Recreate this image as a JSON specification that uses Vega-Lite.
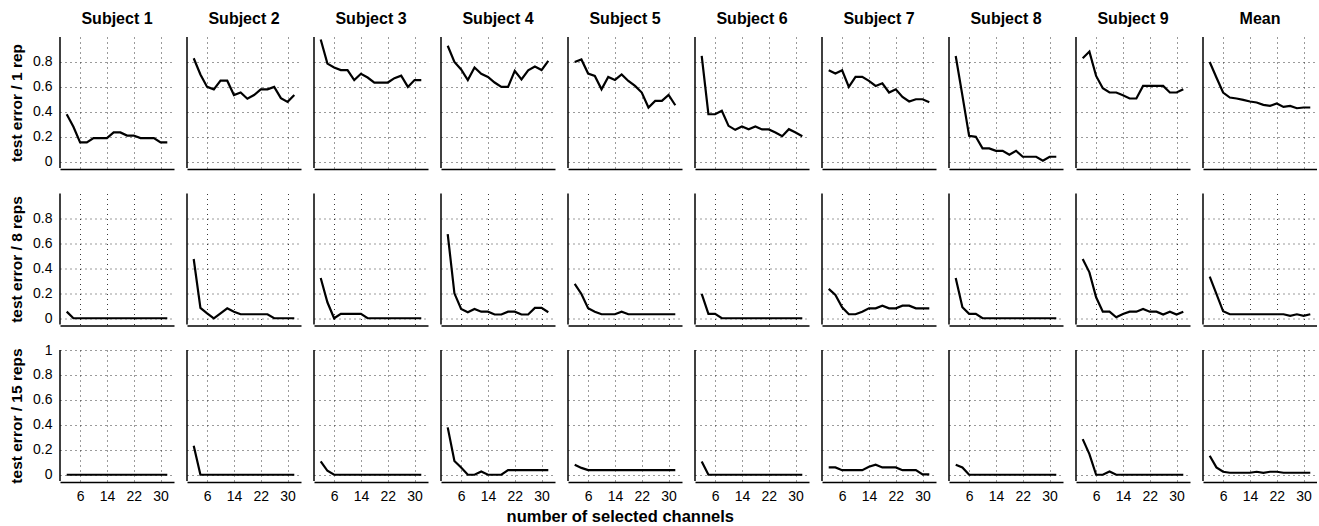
{
"$schema": "https://vega.github.io/schema/vega-lite/v6.json",
"background": "white",
"padding": {"left": 9, "top": 11, "right": 0, "bottom": 0},
"config": {
  "view": {"stroke": null},
  "font": "Liberation Sans",
  "axis": {"domainColor": "black", "domainWidth": 1.5, "ticks": false, "gridColor": "#222", "gridDash": [1, 4], "gridOpacity": 0.9, "gridWidth": 1, "labelColor": "black", "labelFontSize": 14, "labelFont": "Liberation Sans", "titleColor": "black", "titleFontSize": 15.5, "titleFontWeight": "bold", "titleFont": "Liberation Sans", "labelPadding": 7},
  "axisY": {"titlePadding": 8, "domain": false},
  "header": {"labelFont": "Liberation Sans", "labelFontSize": 16, "labelFontWeight": "bold", "labelColor": "black"}
},
"title": {"text": "number of selected channels", "orient": "bottom", "anchor": "middle", "dx": -43, "offset": 6, "fontSize": 16.5, "fontWeight": "bold", "font": "Liberation Sans", "color": "black"},
"data": {"values": [
{"s":"Subject 1","r":1,"x":2,"y":0.38},{"s":"Subject 1","r":1,"x":4,"y":0.28},{"s":"Subject 1","r":1,"x":6,"y":0.155},{"s":"Subject 1","r":1,"x":8,"y":0.155},{"s":"Subject 1","r":1,"x":10,"y":0.19},{"s":"Subject 1","r":1,"x":12,"y":0.19},{"s":"Subject 1","r":1,"x":14,"y":0.19},{"s":"Subject 1","r":1,"x":16,"y":0.235},{"s":"Subject 1","r":1,"x":18,"y":0.235},{"s":"Subject 1","r":1,"x":20,"y":0.21},{"s":"Subject 1","r":1,"x":22,"y":0.21},{"s":"Subject 1","r":1,"x":24,"y":0.19},{"s":"Subject 1","r":1,"x":26,"y":0.19},{"s":"Subject 1","r":1,"x":28,"y":0.19},{"s":"Subject 1","r":1,"x":30,"y":0.155},{"s":"Subject 1","r":1,"x":32,"y":0.155},
{"s":"Subject 2","r":1,"x":2,"y":0.83},{"s":"Subject 2","r":1,"x":4,"y":0.70},{"s":"Subject 2","r":1,"x":6,"y":0.60},{"s":"Subject 2","r":1,"x":8,"y":0.58},{"s":"Subject 2","r":1,"x":10,"y":0.65},{"s":"Subject 2","r":1,"x":12,"y":0.65},{"s":"Subject 2","r":1,"x":14,"y":0.535},{"s":"Subject 2","r":1,"x":16,"y":0.555},{"s":"Subject 2","r":1,"x":18,"y":0.505},{"s":"Subject 2","r":1,"x":20,"y":0.535},{"s":"Subject 2","r":1,"x":22,"y":0.58},{"s":"Subject 2","r":1,"x":24,"y":0.58},{"s":"Subject 2","r":1,"x":26,"y":0.60},{"s":"Subject 2","r":1,"x":28,"y":0.51},{"s":"Subject 2","r":1,"x":30,"y":0.48},{"s":"Subject 2","r":1,"x":32,"y":0.535},
{"s":"Subject 3","r":1,"x":2,"y":0.98},{"s":"Subject 3","r":1,"x":4,"y":0.787},{"s":"Subject 3","r":1,"x":6,"y":0.755},{"s":"Subject 3","r":1,"x":8,"y":0.735},{"s":"Subject 3","r":1,"x":10,"y":0.735},{"s":"Subject 3","r":1,"x":12,"y":0.655},{"s":"Subject 3","r":1,"x":14,"y":0.705},{"s":"Subject 3","r":1,"x":16,"y":0.675},{"s":"Subject 3","r":1,"x":18,"y":0.635},{"s":"Subject 3","r":1,"x":20,"y":0.635},{"s":"Subject 3","r":1,"x":22,"y":0.635},{"s":"Subject 3","r":1,"x":24,"y":0.67},{"s":"Subject 3","r":1,"x":26,"y":0.69},{"s":"Subject 3","r":1,"x":28,"y":0.60},{"s":"Subject 3","r":1,"x":30,"y":0.655},{"s":"Subject 3","r":1,"x":32,"y":0.655},
{"s":"Subject 4","r":1,"x":2,"y":0.93},{"s":"Subject 4","r":1,"x":4,"y":0.80},{"s":"Subject 4","r":1,"x":6,"y":0.74},{"s":"Subject 4","r":1,"x":8,"y":0.655},{"s":"Subject 4","r":1,"x":10,"y":0.755},{"s":"Subject 4","r":1,"x":12,"y":0.705},{"s":"Subject 4","r":1,"x":14,"y":0.68},{"s":"Subject 4","r":1,"x":16,"y":0.635},{"s":"Subject 4","r":1,"x":18,"y":0.60},{"s":"Subject 4","r":1,"x":20,"y":0.60},{"s":"Subject 4","r":1,"x":22,"y":0.728},{"s":"Subject 4","r":1,"x":24,"y":0.66},{"s":"Subject 4","r":1,"x":26,"y":0.733},{"s":"Subject 4","r":1,"x":28,"y":0.763},{"s":"Subject 4","r":1,"x":30,"y":0.735},{"s":"Subject 4","r":1,"x":32,"y":0.808},
{"s":"Subject 5","r":1,"x":2,"y":0.80},{"s":"Subject 5","r":1,"x":4,"y":0.82},{"s":"Subject 5","r":1,"x":6,"y":0.707},{"s":"Subject 5","r":1,"x":8,"y":0.688},{"s":"Subject 5","r":1,"x":10,"y":0.581},{"s":"Subject 5","r":1,"x":12,"y":0.68},{"s":"Subject 5","r":1,"x":14,"y":0.656},{"s":"Subject 5","r":1,"x":16,"y":0.70},{"s":"Subject 5","r":1,"x":18,"y":0.648},{"s":"Subject 5","r":1,"x":20,"y":0.608},{"s":"Subject 5","r":1,"x":22,"y":0.555},{"s":"Subject 5","r":1,"x":24,"y":0.435},{"s":"Subject 5","r":1,"x":26,"y":0.488},{"s":"Subject 5","r":1,"x":28,"y":0.488},{"s":"Subject 5","r":1,"x":30,"y":0.536},{"s":"Subject 5","r":1,"x":32,"y":0.453},
{"s":"Subject 6","r":1,"x":2,"y":0.848},{"s":"Subject 6","r":1,"x":4,"y":0.381},{"s":"Subject 6","r":1,"x":6,"y":0.381},{"s":"Subject 6","r":1,"x":8,"y":0.408},{"s":"Subject 6","r":1,"x":10,"y":0.288},{"s":"Subject 6","r":1,"x":12,"y":0.256},{"s":"Subject 6","r":1,"x":14,"y":0.283},{"s":"Subject 6","r":1,"x":16,"y":0.261},{"s":"Subject 6","r":1,"x":18,"y":0.283},{"s":"Subject 6","r":1,"x":20,"y":0.259},{"s":"Subject 6","r":1,"x":22,"y":0.259},{"s":"Subject 6","r":1,"x":24,"y":0.235},{"s":"Subject 6","r":1,"x":26,"y":0.205},{"s":"Subject 6","r":1,"x":28,"y":0.261},{"s":"Subject 6","r":1,"x":30,"y":0.235},{"s":"Subject 6","r":1,"x":32,"y":0.205},
{"s":"Subject 7","r":1,"x":2,"y":0.733},{"s":"Subject 7","r":1,"x":4,"y":0.707},{"s":"Subject 7","r":1,"x":6,"y":0.733},{"s":"Subject 7","r":1,"x":8,"y":0.60},{"s":"Subject 7","r":1,"x":10,"y":0.68},{"s":"Subject 7","r":1,"x":12,"y":0.68},{"s":"Subject 7","r":1,"x":14,"y":0.648},{"s":"Subject 7","r":1,"x":16,"y":0.608},{"s":"Subject 7","r":1,"x":18,"y":0.629},{"s":"Subject 7","r":1,"x":20,"y":0.555},{"s":"Subject 7","r":1,"x":22,"y":0.581},{"s":"Subject 7","r":1,"x":24,"y":0.52},{"s":"Subject 7","r":1,"x":26,"y":0.483},{"s":"Subject 7","r":1,"x":28,"y":0.501},{"s":"Subject 7","r":1,"x":30,"y":0.501},{"s":"Subject 7","r":1,"x":32,"y":0.477},
{"s":"Subject 8","r":1,"x":2,"y":0.848},{"s":"Subject 8","r":1,"x":4,"y":0.53},{"s":"Subject 8","r":1,"x":6,"y":0.208},{"s":"Subject 8","r":1,"x":8,"y":0.20},{"s":"Subject 8","r":1,"x":10,"y":0.107},{"s":"Subject 8","r":1,"x":12,"y":0.107},{"s":"Subject 8","r":1,"x":14,"y":0.088},{"s":"Subject 8","r":1,"x":16,"y":0.088},{"s":"Subject 8","r":1,"x":18,"y":0.056},{"s":"Subject 8","r":1,"x":20,"y":0.088},{"s":"Subject 8","r":1,"x":22,"y":0.04},{"s":"Subject 8","r":1,"x":24,"y":0.04},{"s":"Subject 8","r":1,"x":26,"y":0.04},{"s":"Subject 8","r":1,"x":28,"y":0.008},{"s":"Subject 8","r":1,"x":30,"y":0.04},{"s":"Subject 8","r":1,"x":32,"y":0.04},
{"s":"Subject 9","r":1,"x":2,"y":0.829},{"s":"Subject 9","r":1,"x":4,"y":0.883},{"s":"Subject 9","r":1,"x":6,"y":0.688},{"s":"Subject 9","r":1,"x":8,"y":0.589},{"s":"Subject 9","r":1,"x":10,"y":0.555},{"s":"Subject 9","r":1,"x":12,"y":0.555},{"s":"Subject 9","r":1,"x":14,"y":0.533},{"s":"Subject 9","r":1,"x":16,"y":0.507},{"s":"Subject 9","r":1,"x":18,"y":0.507},{"s":"Subject 9","r":1,"x":20,"y":0.608},{"s":"Subject 9","r":1,"x":22,"y":0.608},{"s":"Subject 9","r":1,"x":24,"y":0.608},{"s":"Subject 9","r":1,"x":26,"y":0.608},{"s":"Subject 9","r":1,"x":28,"y":0.555},{"s":"Subject 9","r":1,"x":30,"y":0.555},{"s":"Subject 9","r":1,"x":32,"y":0.581},
{"s":"Mean","r":1,"x":2,"y":0.80},{"s":"Mean","r":1,"x":4,"y":0.675},{"s":"Mean","r":1,"x":6,"y":0.555},{"s":"Mean","r":1,"x":8,"y":0.515},{"s":"Mean","r":1,"x":10,"y":0.507},{"s":"Mean","r":1,"x":12,"y":0.496},{"s":"Mean","r":1,"x":14,"y":0.483},{"s":"Mean","r":1,"x":16,"y":0.475},{"s":"Mean","r":1,"x":18,"y":0.456},{"s":"Mean","r":1,"x":20,"y":0.448},{"s":"Mean","r":1,"x":22,"y":0.467},{"s":"Mean","r":1,"x":24,"y":0.44},{"s":"Mean","r":1,"x":26,"y":0.448},{"s":"Mean","r":1,"x":28,"y":0.429},{"s":"Mean","r":1,"x":30,"y":0.435},{"s":"Mean","r":1,"x":32,"y":0.435},
{"s":"Subject 1","r":2,"x":2,"y":0.053},{"s":"Subject 1","r":2,"x":4,"y":0},{"s":"Subject 1","r":2,"x":6,"y":0},{"s":"Subject 1","r":2,"x":8,"y":0},{"s":"Subject 1","r":2,"x":10,"y":0},{"s":"Subject 1","r":2,"x":12,"y":0},{"s":"Subject 1","r":2,"x":14,"y":0},{"s":"Subject 1","r":2,"x":16,"y":0},{"s":"Subject 1","r":2,"x":18,"y":0},{"s":"Subject 1","r":2,"x":20,"y":0},{"s":"Subject 1","r":2,"x":22,"y":0},{"s":"Subject 1","r":2,"x":24,"y":0},{"s":"Subject 1","r":2,"x":26,"y":0},{"s":"Subject 1","r":2,"x":28,"y":0},{"s":"Subject 1","r":2,"x":30,"y":0},{"s":"Subject 1","r":2,"x":32,"y":0},
{"s":"Subject 2","r":2,"x":2,"y":0.475},{"s":"Subject 2","r":2,"x":4,"y":0.083},{"s":"Subject 2","r":2,"x":6,"y":0.04},{"s":"Subject 2","r":2,"x":8,"y":0},{"s":"Subject 2","r":2,"x":10,"y":0.04},{"s":"Subject 2","r":2,"x":12,"y":0.08},{"s":"Subject 2","r":2,"x":14,"y":0.053},{"s":"Subject 2","r":2,"x":16,"y":0.032},{"s":"Subject 2","r":2,"x":18,"y":0.032},{"s":"Subject 2","r":2,"x":20,"y":0.032},{"s":"Subject 2","r":2,"x":22,"y":0.032},{"s":"Subject 2","r":2,"x":24,"y":0.032},{"s":"Subject 2","r":2,"x":26,"y":0},{"s":"Subject 2","r":2,"x":28,"y":0},{"s":"Subject 2","r":2,"x":30,"y":0},{"s":"Subject 2","r":2,"x":32,"y":0},
{"s":"Subject 3","r":2,"x":2,"y":0.323},{"s":"Subject 3","r":2,"x":4,"y":0.128},{"s":"Subject 3","r":2,"x":6,"y":0},{"s":"Subject 3","r":2,"x":8,"y":0.035},{"s":"Subject 3","r":2,"x":10,"y":0.035},{"s":"Subject 3","r":2,"x":12,"y":0.035},{"s":"Subject 3","r":2,"x":14,"y":0.035},{"s":"Subject 3","r":2,"x":16,"y":0},{"s":"Subject 3","r":2,"x":18,"y":0},{"s":"Subject 3","r":2,"x":20,"y":0},{"s":"Subject 3","r":2,"x":22,"y":0},{"s":"Subject 3","r":2,"x":24,"y":0},{"s":"Subject 3","r":2,"x":26,"y":0},{"s":"Subject 3","r":2,"x":28,"y":0},{"s":"Subject 3","r":2,"x":30,"y":0},{"s":"Subject 3","r":2,"x":32,"y":0},
{"s":"Subject 4","r":2,"x":2,"y":0.675},{"s":"Subject 4","r":2,"x":4,"y":0.2},{"s":"Subject 4","r":2,"x":6,"y":0.075},{"s":"Subject 4","r":2,"x":8,"y":0.048},{"s":"Subject 4","r":2,"x":10,"y":0.075},{"s":"Subject 4","r":2,"x":12,"y":0.053},{"s":"Subject 4","r":2,"x":14,"y":0.053},{"s":"Subject 4","r":2,"x":16,"y":0.03},{"s":"Subject 4","r":2,"x":18,"y":0.03},{"s":"Subject 4","r":2,"x":20,"y":0.053},{"s":"Subject 4","r":2,"x":22,"y":0.053},{"s":"Subject 4","r":2,"x":24,"y":0.03},{"s":"Subject 4","r":2,"x":26,"y":0.03},{"s":"Subject 4","r":2,"x":28,"y":0.083},{"s":"Subject 4","r":2,"x":30,"y":0.083},{"s":"Subject 4","r":2,"x":32,"y":0.048},
{"s":"Subject 5","r":2,"x":2,"y":0.275},{"s":"Subject 5","r":2,"x":4,"y":0.195},{"s":"Subject 5","r":2,"x":6,"y":0.08},{"s":"Subject 5","r":2,"x":8,"y":0.053},{"s":"Subject 5","r":2,"x":10,"y":0.032},{"s":"Subject 5","r":2,"x":12,"y":0.032},{"s":"Subject 5","r":2,"x":14,"y":0.032},{"s":"Subject 5","r":2,"x":16,"y":0.053},{"s":"Subject 5","r":2,"x":18,"y":0.032},{"s":"Subject 5","r":2,"x":20,"y":0.032},{"s":"Subject 5","r":2,"x":22,"y":0.032},{"s":"Subject 5","r":2,"x":24,"y":0.032},{"s":"Subject 5","r":2,"x":26,"y":0.032},{"s":"Subject 5","r":2,"x":28,"y":0.032},{"s":"Subject 5","r":2,"x":30,"y":0.032},{"s":"Subject 5","r":2,"x":32,"y":0.032},
{"s":"Subject 6","r":2,"x":2,"y":0.195},{"s":"Subject 6","r":2,"x":4,"y":0.035},{"s":"Subject 6","r":2,"x":6,"y":0.035},{"s":"Subject 6","r":2,"x":8,"y":0},{"s":"Subject 6","r":2,"x":10,"y":0},{"s":"Subject 6","r":2,"x":12,"y":0},{"s":"Subject 6","r":2,"x":14,"y":0},{"s":"Subject 6","r":2,"x":16,"y":0},{"s":"Subject 6","r":2,"x":18,"y":0},{"s":"Subject 6","r":2,"x":20,"y":0},{"s":"Subject 6","r":2,"x":22,"y":0},{"s":"Subject 6","r":2,"x":24,"y":0},{"s":"Subject 6","r":2,"x":26,"y":0},{"s":"Subject 6","r":2,"x":28,"y":0},{"s":"Subject 6","r":2,"x":30,"y":0},{"s":"Subject 6","r":2,"x":32,"y":0},
{"s":"Subject 7","r":2,"x":2,"y":0.235},{"s":"Subject 7","r":2,"x":4,"y":0.187},{"s":"Subject 7","r":2,"x":6,"y":0.088},{"s":"Subject 7","r":2,"x":8,"y":0.032},{"s":"Subject 7","r":2,"x":10,"y":0.032},{"s":"Subject 7","r":2,"x":12,"y":0.053},{"s":"Subject 7","r":2,"x":14,"y":0.08},{"s":"Subject 7","r":2,"x":16,"y":0.08},{"s":"Subject 7","r":2,"x":18,"y":0.101},{"s":"Subject 7","r":2,"x":20,"y":0.08},{"s":"Subject 7","r":2,"x":22,"y":0.08},{"s":"Subject 7","r":2,"x":24,"y":0.101},{"s":"Subject 7","r":2,"x":26,"y":0.101},{"s":"Subject 7","r":2,"x":28,"y":0.08},{"s":"Subject 7","r":2,"x":30,"y":0.08},{"s":"Subject 7","r":2,"x":32,"y":0.08},
{"s":"Subject 8","r":2,"x":2,"y":0.323},{"s":"Subject 8","r":2,"x":4,"y":0.088},{"s":"Subject 8","r":2,"x":6,"y":0.035},{"s":"Subject 8","r":2,"x":8,"y":0.035},{"s":"Subject 8","r":2,"x":10,"y":0},{"s":"Subject 8","r":2,"x":12,"y":0},{"s":"Subject 8","r":2,"x":14,"y":0},{"s":"Subject 8","r":2,"x":16,"y":0},{"s":"Subject 8","r":2,"x":18,"y":0},{"s":"Subject 8","r":2,"x":20,"y":0},{"s":"Subject 8","r":2,"x":22,"y":0},{"s":"Subject 8","r":2,"x":24,"y":0},{"s":"Subject 8","r":2,"x":26,"y":0},{"s":"Subject 8","r":2,"x":28,"y":0},{"s":"Subject 8","r":2,"x":30,"y":0},{"s":"Subject 8","r":2,"x":32,"y":0},
{"s":"Subject 9","r":2,"x":2,"y":0.475},{"s":"Subject 9","r":2,"x":4,"y":0.368},{"s":"Subject 9","r":2,"x":6,"y":0.168},{"s":"Subject 9","r":2,"x":8,"y":0.053},{"s":"Subject 9","r":2,"x":10,"y":0.053},{"s":"Subject 9","r":2,"x":12,"y":0.008},{"s":"Subject 9","r":2,"x":14,"y":0.035},{"s":"Subject 9","r":2,"x":16,"y":0.053},{"s":"Subject 9","r":2,"x":18,"y":0.053},{"s":"Subject 9","r":2,"x":20,"y":0.075},{"s":"Subject 9","r":2,"x":22,"y":0.053},{"s":"Subject 9","r":2,"x":24,"y":0.053},{"s":"Subject 9","r":2,"x":26,"y":0.03},{"s":"Subject 9","r":2,"x":28,"y":0.053},{"s":"Subject 9","r":2,"x":30,"y":0.03},{"s":"Subject 9","r":2,"x":32,"y":0.053},
{"s":"Mean","r":2,"x":2,"y":0.333},{"s":"Mean","r":2,"x":4,"y":0.195},{"s":"Mean","r":2,"x":6,"y":0.056},{"s":"Mean","r":2,"x":8,"y":0.032},{"s":"Mean","r":2,"x":10,"y":0.032},{"s":"Mean","r":2,"x":12,"y":0.032},{"s":"Mean","r":2,"x":14,"y":0.032},{"s":"Mean","r":2,"x":16,"y":0.032},{"s":"Mean","r":2,"x":18,"y":0.032},{"s":"Mean","r":2,"x":20,"y":0.032},{"s":"Mean","r":2,"x":22,"y":0.032},{"s":"Mean","r":2,"x":24,"y":0.032},{"s":"Mean","r":2,"x":26,"y":0.019},{"s":"Mean","r":2,"x":28,"y":0.032},{"s":"Mean","r":2,"x":30,"y":0.019},{"s":"Mean","r":2,"x":32,"y":0.032},
{"s":"Subject 1","r":3,"x":2,"y":0},{"s":"Subject 1","r":3,"x":4,"y":0},{"s":"Subject 1","r":3,"x":6,"y":0},{"s":"Subject 1","r":3,"x":8,"y":0},{"s":"Subject 1","r":3,"x":10,"y":0},{"s":"Subject 1","r":3,"x":12,"y":0},{"s":"Subject 1","r":3,"x":14,"y":0},{"s":"Subject 1","r":3,"x":16,"y":0},{"s":"Subject 1","r":3,"x":18,"y":0},{"s":"Subject 1","r":3,"x":20,"y":0},{"s":"Subject 1","r":3,"x":22,"y":0},{"s":"Subject 1","r":3,"x":24,"y":0},{"s":"Subject 1","r":3,"x":26,"y":0},{"s":"Subject 1","r":3,"x":28,"y":0},{"s":"Subject 1","r":3,"x":30,"y":0},{"s":"Subject 1","r":3,"x":32,"y":0},
{"s":"Subject 2","r":3,"x":2,"y":0.233},{"s":"Subject 2","r":3,"x":4,"y":0},{"s":"Subject 2","r":3,"x":6,"y":0},{"s":"Subject 2","r":3,"x":8,"y":0},{"s":"Subject 2","r":3,"x":10,"y":0},{"s":"Subject 2","r":3,"x":12,"y":0},{"s":"Subject 2","r":3,"x":14,"y":0},{"s":"Subject 2","r":3,"x":16,"y":0},{"s":"Subject 2","r":3,"x":18,"y":0},{"s":"Subject 2","r":3,"x":20,"y":0},{"s":"Subject 2","r":3,"x":22,"y":0},{"s":"Subject 2","r":3,"x":24,"y":0},{"s":"Subject 2","r":3,"x":26,"y":0},{"s":"Subject 2","r":3,"x":28,"y":0},{"s":"Subject 2","r":3,"x":30,"y":0},{"s":"Subject 2","r":3,"x":32,"y":0},
{"s":"Subject 3","r":3,"x":2,"y":0.107},{"s":"Subject 3","r":3,"x":4,"y":0.032},{"s":"Subject 3","r":3,"x":6,"y":0},{"s":"Subject 3","r":3,"x":8,"y":0},{"s":"Subject 3","r":3,"x":10,"y":0},{"s":"Subject 3","r":3,"x":12,"y":0},{"s":"Subject 3","r":3,"x":14,"y":0},{"s":"Subject 3","r":3,"x":16,"y":0},{"s":"Subject 3","r":3,"x":18,"y":0},{"s":"Subject 3","r":3,"x":20,"y":0},{"s":"Subject 3","r":3,"x":22,"y":0},{"s":"Subject 3","r":3,"x":24,"y":0},{"s":"Subject 3","r":3,"x":26,"y":0},{"s":"Subject 3","r":3,"x":28,"y":0},{"s":"Subject 3","r":3,"x":30,"y":0},{"s":"Subject 3","r":3,"x":32,"y":0},
{"s":"Subject 4","r":3,"x":2,"y":0.38},{"s":"Subject 4","r":3,"x":4,"y":0.11},{"s":"Subject 4","r":3,"x":6,"y":0.059},{"s":"Subject 4","r":3,"x":8,"y":0},{"s":"Subject 4","r":3,"x":10,"y":0},{"s":"Subject 4","r":3,"x":12,"y":0.027},{"s":"Subject 4","r":3,"x":14,"y":0},{"s":"Subject 4","r":3,"x":16,"y":0},{"s":"Subject 4","r":3,"x":18,"y":0},{"s":"Subject 4","r":3,"x":20,"y":0.037},{"s":"Subject 4","r":3,"x":22,"y":0.037},{"s":"Subject 4","r":3,"x":24,"y":0.037},{"s":"Subject 4","r":3,"x":26,"y":0.037},{"s":"Subject 4","r":3,"x":28,"y":0.037},{"s":"Subject 4","r":3,"x":30,"y":0.037},{"s":"Subject 4","r":3,"x":32,"y":0.037},
{"s":"Subject 5","r":3,"x":2,"y":0.08},{"s":"Subject 5","r":3,"x":4,"y":0.055},{"s":"Subject 5","r":3,"x":6,"y":0.037},{"s":"Subject 5","r":3,"x":8,"y":0.037},{"s":"Subject 5","r":3,"x":10,"y":0.037},{"s":"Subject 5","r":3,"x":12,"y":0.037},{"s":"Subject 5","r":3,"x":14,"y":0.037},{"s":"Subject 5","r":3,"x":16,"y":0.037},{"s":"Subject 5","r":3,"x":18,"y":0.037},{"s":"Subject 5","r":3,"x":20,"y":0.037},{"s":"Subject 5","r":3,"x":22,"y":0.037},{"s":"Subject 5","r":3,"x":24,"y":0.037},{"s":"Subject 5","r":3,"x":26,"y":0.037},{"s":"Subject 5","r":3,"x":28,"y":0.037},{"s":"Subject 5","r":3,"x":30,"y":0.037},{"s":"Subject 5","r":3,"x":32,"y":0.037},
{"s":"Subject 6","r":3,"x":2,"y":0.107},{"s":"Subject 6","r":3,"x":4,"y":0},{"s":"Subject 6","r":3,"x":6,"y":0},{"s":"Subject 6","r":3,"x":8,"y":0},{"s":"Subject 6","r":3,"x":10,"y":0},{"s":"Subject 6","r":3,"x":12,"y":0},{"s":"Subject 6","r":3,"x":14,"y":0},{"s":"Subject 6","r":3,"x":16,"y":0},{"s":"Subject 6","r":3,"x":18,"y":0},{"s":"Subject 6","r":3,"x":20,"y":0},{"s":"Subject 6","r":3,"x":22,"y":0},{"s":"Subject 6","r":3,"x":24,"y":0},{"s":"Subject 6","r":3,"x":26,"y":0},{"s":"Subject 6","r":3,"x":28,"y":0},{"s":"Subject 6","r":3,"x":30,"y":0},{"s":"Subject 6","r":3,"x":32,"y":0},
{"s":"Subject 7","r":3,"x":2,"y":0.059},{"s":"Subject 7","r":3,"x":4,"y":0.059},{"s":"Subject 7","r":3,"x":6,"y":0.037},{"s":"Subject 7","r":3,"x":8,"y":0.037},{"s":"Subject 7","r":3,"x":10,"y":0.037},{"s":"Subject 7","r":3,"x":12,"y":0.037},{"s":"Subject 7","r":3,"x":14,"y":0.064},{"s":"Subject 7","r":3,"x":16,"y":0.08},{"s":"Subject 7","r":3,"x":18,"y":0.059},{"s":"Subject 7","r":3,"x":20,"y":0.059},{"s":"Subject 7","r":3,"x":22,"y":0.059},{"s":"Subject 7","r":3,"x":24,"y":0.037},{"s":"Subject 7","r":3,"x":26,"y":0.037},{"s":"Subject 7","r":3,"x":28,"y":0.037},{"s":"Subject 7","r":3,"x":30,"y":0.003},{"s":"Subject 7","r":3,"x":32,"y":0.003},
{"s":"Subject 8","r":3,"x":2,"y":0.08},{"s":"Subject 8","r":3,"x":4,"y":0.059},{"s":"Subject 8","r":3,"x":6,"y":0},{"s":"Subject 8","r":3,"x":8,"y":0},{"s":"Subject 8","r":3,"x":10,"y":0},{"s":"Subject 8","r":3,"x":12,"y":0},{"s":"Subject 8","r":3,"x":14,"y":0},{"s":"Subject 8","r":3,"x":16,"y":0},{"s":"Subject 8","r":3,"x":18,"y":0},{"s":"Subject 8","r":3,"x":20,"y":0},{"s":"Subject 8","r":3,"x":22,"y":0},{"s":"Subject 8","r":3,"x":24,"y":0},{"s":"Subject 8","r":3,"x":26,"y":0},{"s":"Subject 8","r":3,"x":28,"y":0},{"s":"Subject 8","r":3,"x":30,"y":0},{"s":"Subject 8","r":3,"x":32,"y":0},
{"s":"Subject 9","r":3,"x":2,"y":0.286},{"s":"Subject 9","r":3,"x":4,"y":0.166},{"s":"Subject 9","r":3,"x":6,"y":0},{"s":"Subject 9","r":3,"x":8,"y":0},{"s":"Subject 9","r":3,"x":10,"y":0.027},{"s":"Subject 9","r":3,"x":12,"y":0},{"s":"Subject 9","r":3,"x":14,"y":0},{"s":"Subject 9","r":3,"x":16,"y":0},{"s":"Subject 9","r":3,"x":18,"y":0},{"s":"Subject 9","r":3,"x":20,"y":0},{"s":"Subject 9","r":3,"x":22,"y":0},{"s":"Subject 9","r":3,"x":24,"y":0},{"s":"Subject 9","r":3,"x":26,"y":0},{"s":"Subject 9","r":3,"x":28,"y":0},{"s":"Subject 9","r":3,"x":30,"y":0},{"s":"Subject 9","r":3,"x":32,"y":0},
{"s":"Mean","r":3,"x":2,"y":0.152},{"s":"Mean","r":3,"x":4,"y":0.059},{"s":"Mean","r":3,"x":6,"y":0.024},{"s":"Mean","r":3,"x":8,"y":0.016},{"s":"Mean","r":3,"x":10,"y":0.016},{"s":"Mean","r":3,"x":12,"y":0.016},{"s":"Mean","r":3,"x":14,"y":0.016},{"s":"Mean","r":3,"x":16,"y":0.024},{"s":"Mean","r":3,"x":18,"y":0.016},{"s":"Mean","r":3,"x":20,"y":0.024},{"s":"Mean","r":3,"x":22,"y":0.024},{"s":"Mean","r":3,"x":24,"y":0.016},{"s":"Mean","r":3,"x":26,"y":0.016},{"s":"Mean","r":3,"x":28,"y":0.016},{"s":"Mean","r":3,"x":30,"y":0.016},{"s":"Mean","r":3,"x":32,"y":0.016}
]},
"spacing": 17,
"vconcat": [
  {
    "spacing": 23.5,
    "vconcat": [
      {
        "transform": [{"filter": "datum.r == 1"}],
        "facet": {"column": {"field": "s", "type": "nominal", "sort": ["Subject 1","Subject 2","Subject 3","Subject 4","Subject 5","Subject 6","Subject 7","Subject 8","Subject 9","Mean"], "header": {"title": null, "labelPadding": 9}}},
        "spacing": {"column": 12},
        "spec": {
          "width": 114, "height": 131,
          "encoding": {
            "x": {"field": "x", "type": "quantitative", "scale": {"domain": [0, 34], "nice": false, "zero": false}, "axis": {"values": [6, 14, 22, 30], "labels": false, "title": null}},
            "y": {"field": "y", "type": "quantitative", "scale": {"domain": [-0.05, 1], "nice": false, "zero": false}, "axis": {"values": [0, 0.2, 0.4, 0.6, 0.8], "format": "~g", "title": "test error / 1 rep"}}
          },
          "layer": [
            {"mark": {"type": "line", "color": "black", "strokeWidth": 2.2, "clip": true}},
            {"transform": [{"filter": "datum.x == 2"}], "mark": {"type": "rule", "color": "black", "strokeWidth": 1.5}, "encoding": {"x": {"datum": 0}, "y": null}}
          ]
        }
      },
      {
        "transform": [{"filter": "datum.r == 2"}],
        "facet": {"column": {"field": "s", "type": "nominal", "sort": ["Subject 1","Subject 2","Subject 3","Subject 4","Subject 5","Subject 6","Subject 7","Subject 8","Subject 9","Mean"], "header": {"title": null, "labels": false}}},
        "spacing": {"column": 12},
        "spec": {
          "width": 114, "height": 131,
          "encoding": {
            "x": {"field": "x", "type": "quantitative", "scale": {"domain": [0, 34], "nice": false, "zero": false}, "axis": {"values": [6, 14, 22, 30], "labels": false, "title": null}},
            "y": {"field": "y", "type": "quantitative", "scale": {"domain": [-0.05, 1], "nice": false, "zero": false}, "axis": {"values": [0, 0.2, 0.4, 0.6, 0.8], "format": "~g", "title": "test error / 8 reps"}}
          },
          "layer": [
            {"mark": {"type": "line", "color": "black", "strokeWidth": 2.2, "clip": true}},
            {"transform": [{"filter": "datum.x == 2"}], "mark": {"type": "rule", "color": "black", "strokeWidth": 1.5}, "encoding": {"x": {"datum": 0}, "y": null}}
          ]
        }
      }
    ]
  },
  {
    "transform": [{"filter": "datum.r == 3"}],
    "facet": {"column": {"field": "s", "type": "nominal", "sort": ["Subject 1","Subject 2","Subject 3","Subject 4","Subject 5","Subject 6","Subject 7","Subject 8","Subject 9","Mean"], "header": {"title": null, "labels": false}}},
    "spacing": {"column": 12},
    "spec": {
      "width": 114, "height": 131,
      "encoding": {
        "x": {"field": "x", "type": "quantitative", "scale": {"domain": [0, 34], "nice": false, "zero": false}, "axis": {"values": [6, 14, 22, 30], "title": null}},
        "y": {"field": "y", "type": "quantitative", "scale": {"domain": [-0.05, 1], "nice": false, "zero": false}, "axis": {"values": [0, 0.2, 0.4, 0.6, 0.8, 1], "format": "~g", "title": "test error / 15 reps"}}
      },
      "layer": [
        {"mark": {"type": "line", "color": "black", "strokeWidth": 2.2, "clip": true}},
        {"transform": [{"filter": "datum.x == 2"}], "mark": {"type": "rule", "color": "black", "strokeWidth": 1.5}, "encoding": {"x": {"datum": 0}, "y": null}}
      ]
    }
  }
]
}
